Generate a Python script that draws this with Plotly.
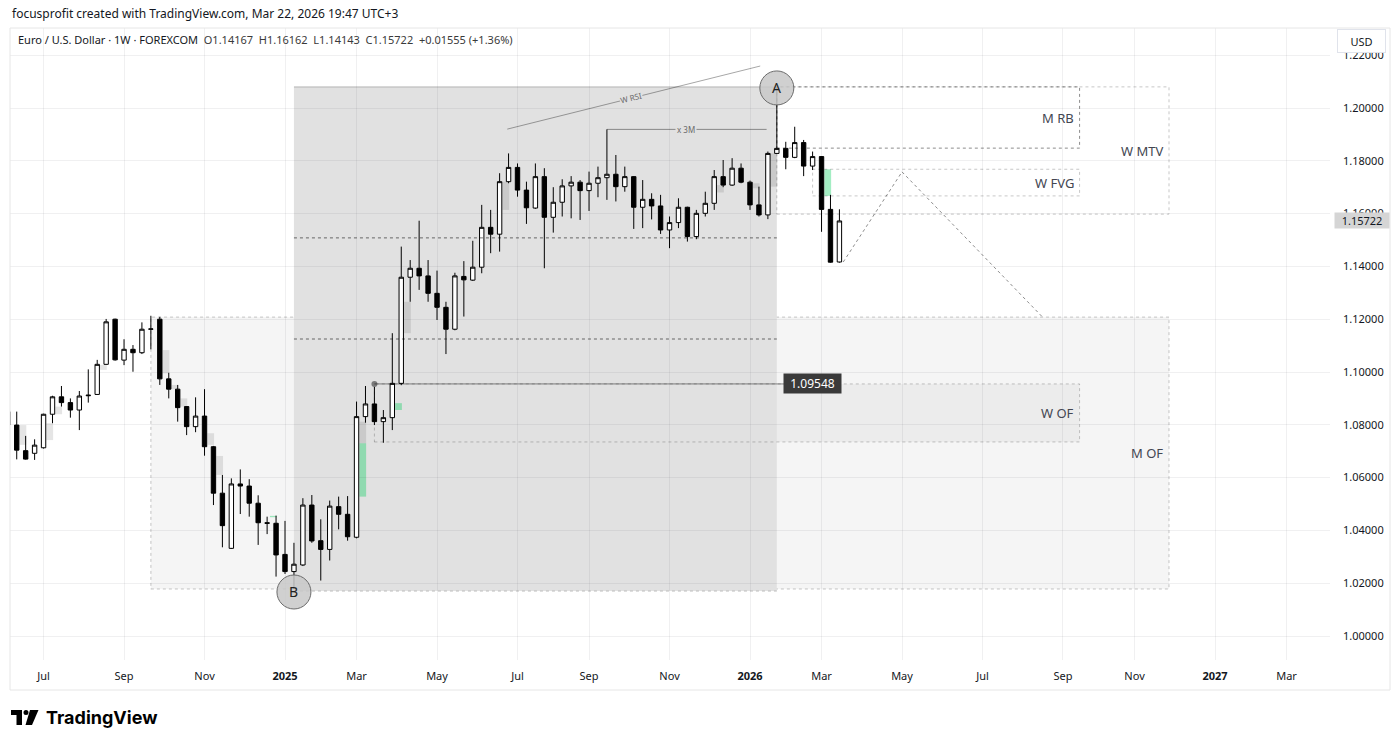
import plotly.graph_objects as go
import pandas as pd

# ---------------- data ----------------
first_week = "2024-06-03"
opens = [1.0850, 1.0799, 1.0702, 1.0692, 1.0713, 1.0840, 1.0906, 1.0884, 1.0856, 1.0910,
         1.0915, 1.1029, 1.1200, 1.1045, 1.1086, 1.1073, 1.1162, 1.1200, 1.0974, 1.0935,
         1.0869, 1.0793, 1.0833, 1.0717, 1.0541, 1.0332, 1.0576, 1.0568, 1.0503, 1.0429,
         1.0427, 1.0309, 1.0244, 1.0269, 1.0496, 1.0361, 1.0328, 1.0490, 1.0461, 1.0374,
         1.0831, 1.0879, 1.0812, 1.0827, 1.0957, 1.1359, 1.1393, 1.1364, 1.1298, 1.1245,
         1.1162, 1.1362, 1.1348, 1.1397, 1.1548, 1.1522, 1.1721, 1.1775, 1.1689, 1.1621,
         1.1740, 1.1586, 1.1643, 1.1705, 1.1719, 1.1687, 1.1715, 1.1736, 1.1749, 1.1702,
         1.1740, 1.1624, 1.1654, 1.1629, 1.1538, 1.1566, 1.1624, 1.1513, 1.1601, 1.1639,
         1.1740, 1.1708, 1.1772, 1.1719, 1.1633, 1.1595, 1.1828, 1.1847, 1.1813, 1.1869,
         1.1780, 1.1816, 1.1616, 1.14167]
highs = [1.0858, 1.0850, 1.0758, 1.0745, 1.0842, 1.0910, 1.0947, 1.0900, 1.0928, 1.1010,
         1.1046, 1.1201, 1.1202, 1.1124, 1.1102, 1.1188, 1.1213, 1.1209, 1.0997, 1.0951,
         1.0870, 1.0904, 1.0935, 1.0720, 1.0610, 1.0597, 1.0631, 1.0594, 1.0533, 1.0452,
         1.0456, 1.0436, 1.0353, 1.0522, 1.0534, 1.0442, 1.0513, 1.0528, 1.0530, 1.0888,
         1.0947, 1.09548, 1.0856, 1.1147, 1.1475, 1.1424, 1.1573, 1.1424, 1.1384, 1.1266,
         1.1376, 1.1420, 1.1497, 1.1633, 1.1614, 1.1753, 1.1828, 1.1790, 1.1721, 1.1790,
         1.1772, 1.1700, 1.1730, 1.1742, 1.1727, 1.1759, 1.1778, 1.1919, 1.1822, 1.1778,
         1.1742, 1.1727, 1.1677, 1.1671, 1.1589, 1.1658, 1.1626, 1.1614, 1.1683, 1.1765,
         1.1803, 1.1810, 1.1790, 1.1725, 1.1702, 1.1835, 1.2080, 1.1872, 1.1929, 1.1879,
         1.1835, 1.1818, 1.1671, 1.16162]
lows = [1.0797, 1.0669, 1.0668, 1.0667, 1.0710, 1.0806, 1.0869, 1.0827, 1.0780, 1.0884,
        1.0913, 1.1027, 1.1043, 1.1026, 1.1001, 1.1068, 1.1086, 1.0951, 1.0900, 1.0812,
        1.0761, 1.0772, 1.0683, 1.0496, 1.0336, 1.0330, 1.0462, 1.0452, 1.0345, 1.0386,
        1.0225, 1.0235, 1.0178, 1.0265, 1.0353, 1.0210, 1.0286, 1.0404, 1.0361, 1.0370,
        1.0808, 1.0799, 1.0732, 1.0780, 1.0950, 1.1266, 1.1311, 1.1266, 1.1197, 1.1068,
        1.1158, 1.1210, 1.1345, 1.1374, 1.1450, 1.1456, 1.1715, 1.1664, 1.1561, 1.1618,
        1.1393, 1.1528, 1.1589, 1.1582, 1.1576, 1.1610, 1.1662, 1.1652, 1.1646, 1.1683,
        1.1542, 1.1545, 1.1578, 1.1523, 1.1469, 1.1545, 1.1494, 1.1503, 1.1589, 1.1614,
        1.1700, 1.1705, 1.1715, 1.1614, 1.1589, 1.1579, 1.1826, 1.1768, 1.1810, 1.1742,
        1.1765, 1.1531, 1.1414, 1.14143]
closes = [1.0799, 1.0704, 1.0670, 1.0723, 1.0840, 1.0906, 1.0884, 1.0856, 1.0909, 1.0912,
          1.1029, 1.1190, 1.1046, 1.1086, 1.1073, 1.1162, 1.1163, 1.0974, 1.0935, 1.0865,
          1.0793, 1.0833, 1.0717, 1.0541, 1.0418, 1.0576, 1.0568, 1.0503, 1.0429, 1.0427,
          1.0307, 1.0244, 1.0272, 1.0496, 1.0360, 1.0328, 1.0492, 1.0461, 1.0376, 1.0831,
          1.0879, 1.0812, 1.0827, 1.0957, 1.1359, 1.1393, 1.1364, 1.1298, 1.1245, 1.1162,
          1.1364, 1.1349, 1.1397, 1.1548, 1.1522, 1.1721, 1.1775, 1.1689, 1.1622, 1.1740,
          1.1586, 1.1643, 1.1705, 1.1719, 1.1687, 1.1715, 1.1736, 1.1749, 1.1702, 1.1740,
          1.1624, 1.1654, 1.1629, 1.1538, 1.1566, 1.1624, 1.1513, 1.1601, 1.1639, 1.1740,
          1.1708, 1.1772, 1.1719, 1.1633, 1.1595, 1.1828, 1.1847, 1.1813, 1.1869, 1.1780,
          1.1816, 1.1616, 1.1416, 1.15722]

tick_dates = ["2024-07-01", "2024-09-02", "2024-11-04", "2025-01-06", "2025-03-03", "2025-05-05",
              "2025-07-07", "2025-09-01", "2025-11-03", "2026-01-05", "2026-03-02", "2026-05-04",
              "2026-07-06", "2026-09-07", "2026-11-02", "2027-01-04", "2027-03-01"]
tick_text = ["Jul", "Sep", "Nov", "<b>2025</b>", "Mar", "May", "Jul", "Sep", "Nov", "<b>2026</b>",
             "Mar", "May", "Jul", "Sep", "Nov", "<b>2027</b>", "Mar"]
price_ticks = [1.00, 1.02, 1.04, 1.06, 1.08, 1.10, 1.12, 1.14, 1.16, 1.18, 1.20, 1.22]

# small "imbalance" blocks next to candles
imb_anchor = ["2024-06-10", "2024-07-01", "2024-07-08", "2024-08-12", "2024-09-30", "2024-10-07",
              "2024-10-14", "2024-11-04", "2024-11-11", "2024-12-23", "2025-03-03", "2025-03-03",
              "2025-03-31", "2025-04-07", "2025-06-23", "2025-12-08", "2026-01-05", "2026-01-19",
              "2026-03-02"]
imb_low = [1.0724, 1.0742, 1.0840, 1.1008, 1.0995, 1.0935, 1.0869, 1.0724, 1.0610, 1.0450,
           1.0730, 1.0528, 1.0856, 1.1147, 1.1614, 1.1680, 1.1696, 1.1702, 1.1667]
imb_high = [1.0799, 1.0806, 1.0869, 1.1027, 1.1083, 1.0951, 1.0900, 1.0768, 1.0682, 1.0455,
            1.0812, 1.0730, 1.0882, 1.1266, 1.1721, 1.1708, 1.1715, 1.1828, 1.1768]
imb_kind = ["g", "g", "g", "g", "g", "g", "g", "g", "g", "v", "g", "v", "v", "g", "g", "g", "g", "g", "v"]

# drawing levels
b_date, a_date = "2025-01-13", "2026-01-26"
range_low, range_high = 1.0170, 1.2080
range_lines = [1.1508, 1.1125]
mof_left, mof_low, mof_high = "2024-09-23", 1.0178, 1.1208
wof_left, wof_low, wof_high = "2025-03-17", 1.0735, 1.09548
zone_end_1, zone_end_2 = "2026-09-20", "2026-11-29"
mrb_low = 1.1848
mtv_low = 1.1598
fvg_left, fvg_low, fvg_high = "2026-02-23", 1.1667, 1.1768
level_end = "2026-02-01"
label_date = "2026-02-23"
zig_x = ["2026-03-19", "2026-05-04", "2026-08-22"]
zig_y = [1.14167, 1.1758, 1.1208]
rsi_x = ["2025-06-29", "2026-01-13"]
rsi_y = [1.1920, 1.2159]
x3m_x = ["2025-09-15", "2026-01-18"]
x3m_y = 1.1919

# ---------------- geometry of the TradingView pane ----------------
PL, PT, PR, PB = 10, 28, 1330, 660
PX_PER_DAY = 465 / 364.0
anchor_left = pd.Timestamp("2025-01-06")
anchor_px = 285
x_start = anchor_left - pd.Timedelta(days=(anchor_px - PL) / PX_PER_DAY)
x_end = anchor_left + pd.Timedelta(days=(PR - anchor_px) / PX_PER_DAY)
Y_TOP = 1.20 + (108 - PT) / 2640.0
Y_BOT = 1.20 - (PB - 108) / 2640.0


def px(x):
    return (x - PL) / (PR - PL)


def py(y):
    return (PB - y) / (PB - PT)


dates = pd.date_range(first_week, periods=len(opens), freq="7D")
D = pd.Timestamp
DAY = pd.Timedelta(days=1)

fig = go.Figure()
fig.add_trace(go.Candlestick(
    x=dates, open=opens, high=highs, low=lows, close=closes,
    increasing=dict(line=dict(color="#000000", width=1), fillcolor="#ffffff"),
    decreasing=dict(line=dict(color="#000000", width=1), fillcolor="#000000"),
    whiskerwidth=0, hoverinfo="skip", showlegend=False))

# dot where the 1.09548 level starts
fig.add_trace(go.Scatter(x=[D(wof_left)], y=[wof_high], mode="markers",
                         marker=dict(size=6, color="#7a7a7a"), hoverinfo="skip", showlegend=False))

shapes = []
GRID_DOT = "rgba(0,0,0,0.22)"
# M OF zone
shapes.append(dict(type="rect", xref="x", yref="y", x0=D(mof_left), x1=D(zone_end_2), y0=mof_low, y1=mof_high,
                   fillcolor="#f5f5f5", line=dict(color=GRID_DOT, width=1, dash="dot"), layer="below"))
# W OF zone (fill)
shapes.append(dict(type="rect", xref="x", yref="y", x0=D(wof_left), x1=D(zone_end_1), y0=wof_low, y1=wof_high,
                   fillcolor="#ececec", line=dict(width=0), layer="below"))
# big B->A range box
shapes.append(dict(type="rect", xref="x", yref="y", x0=D(b_date), x1=D(a_date), y0=range_low, y1=range_high,
                   fillcolor="#e1e1e1", line=dict(width=0), layer="below"))
shapes.append(dict(type="line", xref="x", yref="y", x0=D(b_date), x1=D(a_date), y0=range_high, y1=range_high,
                   line=dict(color="rgba(0,0,0,0.25)", width=1), layer="below"))
shapes.append(dict(type="line", xref="x", yref="y", x0=D(b_date), x1=D(a_date), y0=range_low, y1=range_low,
                   line=dict(color=GRID_DOT, width=1, dash="dot"), layer="below"))
# W OF zone (outline, over the range box)
shapes.append(dict(type="rect", xref="x", yref="y", x0=D(wof_left), x1=D(zone_end_1), y0=wof_low, y1=wof_high,
                   line=dict(color=GRID_DOT, width=1, dash="dot"), layer="below"))
# imbalance blocks
for a, lo, hi, k in zip(imb_anchor, imb_low, imb_high, imb_kind):
    col = "rgba(0,0,0,0.10)" if k == "g" else "rgba(0,205,90,0.36)"
    shapes.append(dict(type="rect", xref="x", yref="y", x0=D(a) + 2.2 * DAY, x1=D(a) + 7.5 * DAY,
                       y0=lo, y1=hi, fillcolor=col, line=dict(width=0), layer="below"))
# dotted levels inside the range box
for lv in range_lines:
    shapes.append(dict(type="line", xref="x", yref="y", x0=D(b_date), x1=D(a_date), y0=lv, y1=lv,
                       line=dict(color="rgba(0,0,0,0.55)", width=1, dash="dot"), layer="above"))
# 1.09548 level
shapes.append(dict(type="line", xref="x", yref="y", x0=D(wof_left), x1=D(level_end), y0=wof_high, y1=wof_high,
                   line=dict(color="rgba(0,0,0,0.45)", width=1), layer="above"))
# M RB
shapes.append(dict(type="rect", xref="x", yref="y", x0=D(a_date), x1=D(zone_end_1), y0=mrb_low, y1=range_high,
                   line=dict(color="rgba(0,0,0,0.45)", width=1, dash="dot"), layer="above"))
# W MTV
shapes.append(dict(type="rect", xref="x", yref="y", x0=D(a_date), x1=D(zone_end_2), y0=mtv_low, y1=range_high,
                   line=dict(color=GRID_DOT, width=1, dash="dot"), layer="above"))
# W FVG
shapes.append(dict(type="rect", xref="x", yref="y", x0=D(fvg_left), x1=D(zone_end_1), y0=fvg_low, y1=fvg_high,
                   line=dict(color=GRID_DOT, width=1, dash="dot"), layer="above"))
# projected zigzag
for i in range(len(zig_x) - 1):
    shapes.append(dict(type="line", xref="x", yref="y", x0=D(zig_x[i]), x1=D(zig_x[i + 1]),
                       y0=zig_y[i], y1=zig_y[i + 1],
                       line=dict(color="rgba(0,0,0,0.45)", width=1, dash="dot"), layer="above"))
# W RSI line
shapes.append(dict(type="line", xref="x", yref="y", x0=D(rsi_x[0]), x1=D(rsi_x[1]), y0=rsi_y[0], y1=rsi_y[1],
                   line=dict(color="rgba(0,0,0,0.35)", width=1), layer="above"))
# x 3M line
shapes.append(dict(type="line", xref="x", yref="y", x0=D(x3m_x[0]), x1=D(x3m_x[1]), y0=x3m_y, y1=x3m_y,
                   line=dict(color="rgba(0,0,0,0.4)", width=1), layer="above"))
# A / B circles
for dt, pr in [(a_date, 1.2076), (b_date, 1.01667)]:
    shapes.append(dict(type="circle", xref="x", yref="y", xsizemode="pixel", ysizemode="pixel",
                       xanchor=D(dt), yanchor=pr, x0=-17, x1=17, y0=-17, y1=17,
                       fillcolor="rgba(200,200,200,0.85)", line=dict(color="#6b6b6b", width=1), layer="above"))
# outer frame and TradingView logo (paper/pixel based)
shapes.append(dict(type="rect", xref="paper", yref="paper", x0=px(10), x1=px(1390), y0=py(28), y1=py(690),
                   line=dict(color="#e6e6e6", width=1), layer="above"))
shapes.append(dict(type="rect", xref="paper", yref="paper", x0=px(11), x1=px(22), y0=py(710), y1=py(715),
                   fillcolor="#000000", line=dict(width=0), layer="above"))
shapes.append(dict(type="rect", xref="paper", yref="paper", x0=px(16.5), x1=px(22), y0=py(710), y1=py(725),
                   fillcolor="#000000", line=dict(width=0), layer="above"))
shapes.append(dict(type="circle", xref="paper", yref="paper", x0=px(23.5), x1=px(28.5), y0=py(710), y1=py(715),
                   fillcolor="#000000", line=dict(width=0), layer="above"))
shapes.append(dict(type="path", xref="paper", yref="paper",
                   path="M {} {} L {} {} L {} {} L {} {} Z".format(px(30), py(710), px(38.5), py(710),
                                                                  px(32), py(725), px(25.5), py(725)),
                   fillcolor="#000000", line=dict(width=0), layer="above"))

ann = []
LBL = dict(size=13, color="#434651", family="Noto Sans")
for txt, xd, yv in [("M RB", zone_end_1, (mrb_low + range_high) / 2),
                    ("W MTV", zone_end_2, (mtv_low + range_high) / 2),
                    ("W FVG", zone_end_1, (fvg_low + fvg_high) / 2),
                    ("W OF", zone_end_1, (wof_low + wof_high) / 2),
                    ("M OF", zone_end_2, (mof_low + mof_high) / 2)]:
    ann.append(dict(x=D(xd), y=yv, xref="x", yref="y", text=txt, showarrow=False, xanchor="right",
                    yanchor="middle", xshift=-4, font=LBL))
ann.append(dict(x=D(a_date), y=1.2076, xref="x", yref="y", text="A", showarrow=False,
                font=dict(size=14, color="#222222", family="Noto Sans")))
ann.append(dict(x=D(b_date), y=1.01667, xref="x", yref="y", text="B", showarrow=False,
                font=dict(size=14, color="#222222", family="Noto Sans")))
ann.append(dict(x=D("2025-10-04"), y=1.2040, xref="x", yref="y", text="W RSI", showarrow=False, textangle=-14,
                bgcolor="#e1e1e1", borderpad=0, font=dict(size=8, color="#6a6a6a", family="Noto Sans")))
ann.append(dict(x=D("2025-11-16"), y=x3m_y, xref="x", yref="y", text="x 3M", showarrow=False,
                bgcolor="#e1e1e1", borderpad=1, font=dict(size=8, color="#6a6a6a", family="Noto Sans")))
ann.append(dict(x=D(label_date), y=wof_high, xref="x", yref="y", text="1.09548", showarrow=False,
                xanchor="center", yanchor="middle", width=57, height=19, align="center",
                bgcolor="#3a3a3a", borderpad=0,
                font=dict(size=12, color="#ffffff", family="Noto Sans")))
# last price on the scale
ann.append(dict(x=px(1334), y=closes[-1], xref="paper", yref="y", text="1.15722", showarrow=False,
                xanchor="left", yanchor="middle", width=54, height=15, align="center",
                bgcolor="#d5d5d5", borderpad=0, font=dict(size=11, color="#131722", family="Noto Sans")))
# USD button
ann.append(dict(x=px(1361.5), y=py(41), xref="paper", yref="paper", text="USD", showarrow=False,
                xanchor="center", yanchor="middle", width=47, height=22, align="center",
                bgcolor="#ffffff", bordercolor="#e0e3eb", borderwidth=1, borderpad=0,
                font=dict(size=11, color="#131722", family="Noto Sans")))
# header texts
ann.append(dict(x=px(10), y=py(13), xref="paper", yref="paper", xanchor="left", yanchor="middle",
                text="focusprofit created with TradingView.com, Mar 22, 2026 19:47 UTC+3", showarrow=False,
                font=dict(size=12, color="#131722", family="Noto Sans")))
ann.append(dict(x=px(16), y=py(40), xref="paper", yref="paper", xanchor="left", yanchor="middle",
                text="Euro / U.S. Dollar · 1W · FOREXCOM  <span style='color:#3a3a3a'>O1.14167  H1.16162  "
                     "L1.14143  C1.15722  +0.01555 (+1.36%)</span>",
                showarrow=False, font=dict(size=11, color="#131722", family="Noto Sans")))
ann.append(dict(x=px(44), y=py(717), xref="paper", yref="paper", xanchor="left", yanchor="middle",
                text="<b>TradingView</b>", showarrow=False, font=dict(size=18, color="#000000", family="Inter")))

GRID = "rgba(42,46,57,0.07)"
fig.update_layout(
    width=1400, height=745,
    margin=dict(l=PL, r=1400 - PR, t=PT, b=745 - PB),
    paper_bgcolor="#ffffff", plot_bgcolor="#ffffff",
    showlegend=False,
    font=dict(family="Noto Sans", size=11, color="#131722"),
    xaxis=dict(type="date", range=[x_start, x_end], tickvals=[D(t) for t in tick_dates], ticktext=tick_text,
               showgrid=True, gridcolor=GRID, gridwidth=1, zeroline=False, showline=False,
               ticks="", ticklabelstandoff=8, tickfont=dict(size=11, color="#131722"),
               rangeslider=dict(visible=False), fixedrange=True),
    yaxis=dict(side="right", range=[Y_BOT, Y_TOP], tickvals=price_ticks, tickformat=".5f",
               showgrid=True, gridcolor=GRID, gridwidth=1, zeroline=False, showline=False,
               ticks="", ticklabelstandoff=12, tickfont=dict(size=11, color="#131722"), fixedrange=True),
    shapes=shapes, annotations=ann,
)

fig.write_html("out.html")
